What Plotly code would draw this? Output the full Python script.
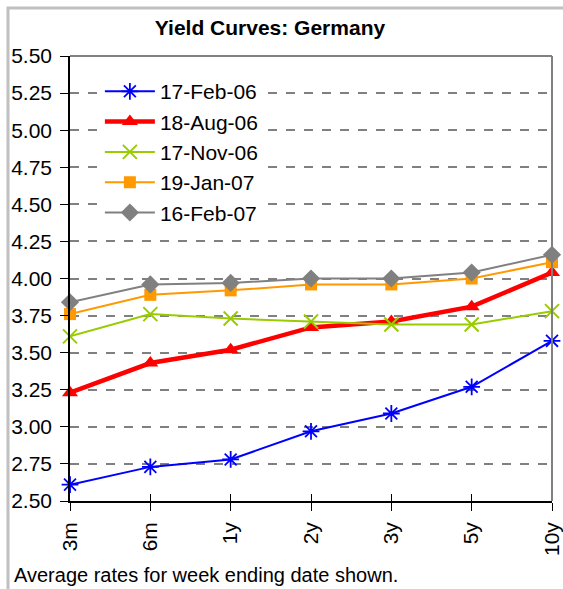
import plotly.graph_objects as go

maturities = ["3m", "6m", "1y", "2y", "3y", "5y", "10y"]
feb06 = [2.61, 2.73, 2.78, 2.97, 3.09, 3.27, 3.58]
aug06 = [3.23, 3.43, 3.52, 3.67, 3.71, 3.81, 4.04]
nov06 = [3.61, 3.76, 3.73, 3.71, 3.69, 3.69, 3.78]
jan07 = [3.76, 3.89, 3.92, 3.96, 3.96, 4.00, 4.11]
feb07 = [3.84, 3.96, 3.97, 4.00, 4.00, 4.04, 4.16]
series_names = ["17-Feb-06", "18-Aug-06", "17-Nov-06", "19-Jan-07", "16-Feb-07"]
y_ticks = [2.50, 2.75, 3.00, 3.25, 3.50, 3.75, 4.00, 4.25, 4.50, 4.75, 5.00, 5.25, 5.50]

FONT = "Liberation Sans, Arial, sans-serif"
styles = [
    dict(color="#0000ff", width=2, symbol="asterisk-open", size=14, mlw=1.8),
    dict(color="#ff0000", width=4.5, symbol="triangle-up", size=14, mlw=0),
    dict(color="#99cc00", width=2, symbol="x-thin-open", size=14, mlw=2),
    dict(color="#ff9900", width=2, symbol="square", size=12, mlw=0),
    dict(color="#808080", width=2, symbol="diamond", size=14, mlw=0),
]
data = [feb06, aug06, nov06, jan07, feb07]

W, H = 563, 589
L, R, T, B = 70, 11, 56, 88
PW, PH = W - L - R, H - T - B

fig = go.Figure()
for i, (name, vals, st) in enumerate(zip(series_names, data, styles)):
    fig.add_trace(go.Scatter(
        x=maturities, y=vals, name=name, mode="lines+markers",
        line=dict(color=st["color"], width=st["width"]),
        marker=dict(symbol=st["symbol"], size=st["size"], color=st["color"],
                    line=dict(color=st["color"], width=st["mlw"])),
        cliponaxis=False, legendgroup=f"g{i}",
    ))

fig.update_layout(
    width=W, height=H,
    margin=dict(l=L, r=R, t=T, b=B, autoexpand=False),
    paper_bgcolor="white", plot_bgcolor="white",
    font=dict(family=FONT, size=21, color="black"),
    title=dict(text="<b>Yield Curves: Germany</b>", x=(270 - L) / PW, xref="paper",
               xanchor="center", y=1 - 28 / H, yanchor="middle",
               font=dict(size=21, family=FONT)),
    showlegend=True,
    legend=dict(x=0.062, y=0.966, xanchor="left", yanchor="top",
                bgcolor="white", font=dict(size=21, family=FONT),
                traceorder="grouped", tracegroupgap=0, itemwidth=50),
    xaxis=dict(type="category", range=[0, 6], showgrid=False, automargin=False,
               showline=True, linecolor="black", linewidth=1.5,
               ticks="outside", ticklen=8, tickcolor="black", tickwidth=1,
               ticklabelstandoff=3,
               tickangle=-90, tickfont=dict(size=21, family=FONT), zeroline=False),
    xaxis2=dict(overlaying="x", range=[0, 6], tickmode="array", automargin=False,
                tickvals=list(range(len(maturities))), ticks="inside", ticklen=7,
                tickcolor="black", tickwidth=1, showticklabels=False,
                showgrid=False, showline=False, zeroline=False, side="bottom"),
    yaxis=dict(range=[2.5, 5.5], tickmode="array", tickvals=y_ticks, automargin=False,
               ticktext=[f"{v:.2f}" for v in y_ticks],
               showgrid=True, gridcolor="#808080", gridwidth=1.5, griddash="dash",
               showline=True, linecolor="black", linewidth=1.5,
               ticks="outside", ticklen=8, tickcolor="black", tickwidth=1,
               ticklabelstandoff=4,
               tickfont=dict(size=21, family=FONT), zeroline=False),
)

# invisible trace to anchor the overlaid tick axis
fig.add_trace(go.Scatter(x=[0], y=[2.5], xaxis="x2", mode="markers",
                         marker=dict(opacity=0), showlegend=False, hoverinfo="skip"))

# plot area top/right frame
fig.add_shape(type="line", xref="paper", yref="paper", x0=0, x1=1, y0=1, y1=1,
              line=dict(color="#808080", width=2))
fig.add_shape(type="line", xref="paper", yref="paper", x0=1, x1=1, y0=0, y1=1,
              line=dict(color="#808080", width=2))
# outer chart border
fig.add_shape(type="rect", xref="paper", yref="paper",
              x0=(8 - L) / PW, x1=(W + 20 - L) / PW,
              y0=(PH + T - 8) / PH, y1=-(B + 20) / PH,
              line=dict(color="#c0c0c0", width=3), layer="below")

fig.add_annotation(text="Average rates for week ending date shown.",
                   xref="paper", yref="paper", x=(12 - L) / PW,
                   y=-(575 - T - PH) / PH, xanchor="left", yanchor="middle",
                   showarrow=False, font=dict(size=20, family=FONT))

fig.write_html(
    "out.html",
    config={"displayModeBar": False},
    post_script="document.body.style.margin='0';document.body.style.overflow='hidden';",
)
